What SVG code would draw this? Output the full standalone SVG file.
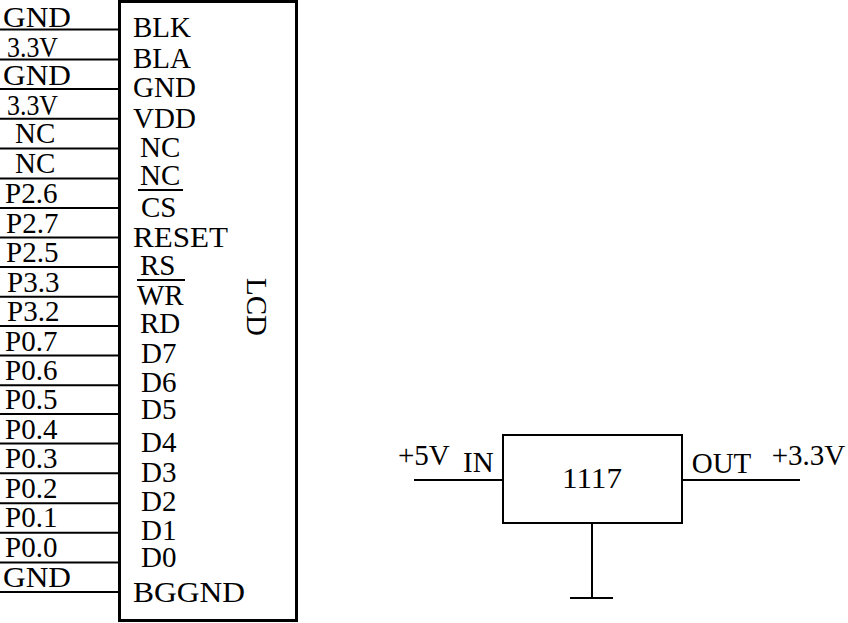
<svg xmlns="http://www.w3.org/2000/svg" width="848" height="623" viewBox="0 0 848 623">
<style>
text{font-family:"Liberation Serif","Times New Roman",serif;font-size:29px;fill:#000}
.w{stroke:#000;stroke-width:2;fill:none}
.box{stroke:#000;stroke-width:3;fill:#fff}
</style>
<rect width="848" height="623" fill="#fff"/>
<g id="connectors">
<path class="w" d="M0 29.5H119M0 59.5H119M0 89H119M0 118.7H119M0 148.5H119M0 178.5H119M0 208H119M0 237.5H119M0 267H119M0 296.7H119M0 326H119M0 355.5H119M0 385.2H119M0 414H119M0 443.5H119M0 473.3H119M0 503.2H119M0 532.8H119M0 562.6H119M0 592H119"/>
<path class="w" d="M414 480H503M682 480H800M592 523V598M570 598H613"/>
</g>
<g id="lcd">
<rect class="box" x="119.5" y="1.5" width="177" height="619"/>
<text x="133" y="37">BLK</text>
<text x="133" y="68">BLA</text>
<text x="133" y="97">GND</text>
<text x="133" y="128">VDD</text>
<text x="140" y="157">NC</text>
<text x="140" y="185">NC</text>
<path class="w" d="M138 190H183"/>
<text x="141" y="217">CS</text>
<text x="133" y="246.7" textLength="95" lengthAdjust="spacingAndGlyphs">RESET</text>
<text x="140" y="275">RS</text>
<path class="w" d="M137 280H185"/>
<text x="137" y="305">WR</text>
<text x="140" y="333">RD</text>
<text x="141" y="363">D7</text>
<text x="141" y="392">D6</text>
<text x="141" y="419">D5</text>
<text x="141" y="452">D4</text>
<text x="141" y="482">D3</text>
<text x="141" y="511">D2</text>
<text x="141" y="540">D1</text>
<text x="141" y="567">D0</text>
<text x="133" y="602" textLength="112" lengthAdjust="spacingAndGlyphs">BGGND</text>
<text transform="translate(247,307) rotate(90)" text-anchor="middle">LCD</text>
</g>
<g id="pin-labels">
<text x="3" y="27" textLength="68" lengthAdjust="spacingAndGlyphs">GND</text>
<text x="7" y="56.7" textLength="51" lengthAdjust="spacingAndGlyphs">3.3V</text>
<text x="3" y="85" textLength="68" lengthAdjust="spacingAndGlyphs">GND</text>
<text x="7" y="115" textLength="51" lengthAdjust="spacingAndGlyphs">3.3V</text>
<text x="15" y="143.3">NC</text>
<text x="15" y="173">NC</text>
<text x="5" y="203">P2.6</text>
<text x="6" y="233">P2.7</text>
<text x="6" y="262">P2.5</text>
<text x="7" y="292">P3.3</text>
<text x="7" y="321">P3.2</text>
<text x="5" y="351">P0.7</text>
<text x="5" y="380">P0.6</text>
<text x="5" y="409">P0.5</text>
<text x="5" y="439">P0.4</text>
<text x="5" y="468">P0.3</text>
<text x="5" y="498">P0.2</text>
<text x="5" y="527">P0.1</text>
<text x="5" y="557">P0.0</text>
<text x="3" y="587" textLength="68" lengthAdjust="spacingAndGlyphs">GND</text>
</g>
<g id="reg1117">
<rect x="503" y="435" width="179" height="88" fill="#fff" stroke="#000" stroke-width="2"/>
<text x="592" y="488" text-anchor="middle" textLength="60" lengthAdjust="spacingAndGlyphs">1117</text>
<text x="463" y="471.7">IN</text>
<text x="691.7" y="472.7">OUT</text>
</g>
<g id="net-labels">
<text x="398" y="465">+5V</text>
<text x="771.7" y="465">+3.3V</text>
</g>
</svg>
